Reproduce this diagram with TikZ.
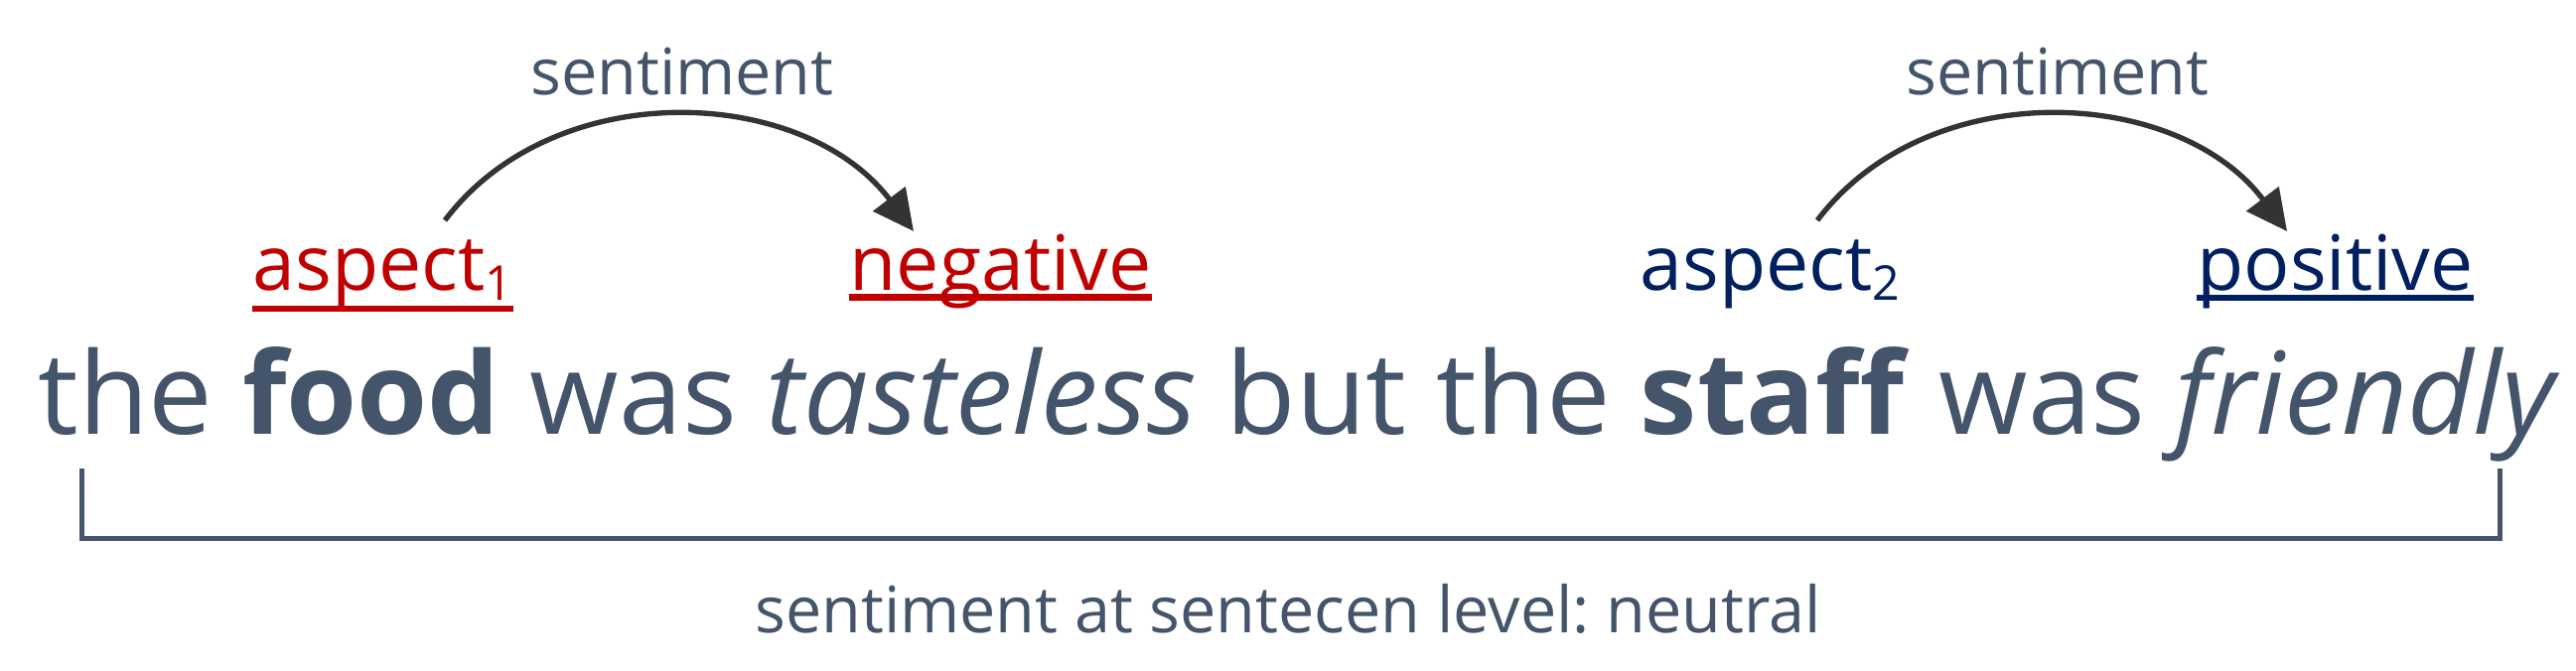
\documentclass[tikz,border=0pt]{standalone}
\usepackage{fontspec}
\setmainfont{Open Sans}
\usetikzlibrary{arrows.meta}
\frenchspacing
\definecolor{txtc}{HTML}{44546A}
\definecolor{redc}{HTML}{C00000}
\definecolor{navyc}{HTML}{002060}
\definecolor{arrc}{HTML}{333333}
\newcommand{\mysub}[1]{\raisebox{-3pt}{\fontsize{14.5pt}{15pt}\selectfont #1}}
\tikzset{
  bigtxt/.style={inner sep=0pt, anchor=base, text=txtc, font=\fontsize{34.5pt}{40pt}\selectfont},
  lbltxt/.style={inner sep=0pt, anchor=base, font=\fontsize{23.1pt}{28pt}\selectfont},
  smalltxt/.style={inner sep=0pt, anchor=base, text=txtc, font=\fontsize{19.4pt}{24pt}\selectfont},
  arcline/.style={draw=arrc, line width=1.6pt, -{Triangle[length=12.3pt,width=12pt]}},
  brk/.style={draw=txtc, line width=1.5pt, line join=miter},
  ulred/.style={draw=redc, line width=2pt},
  ulnavy/.style={draw=navyc, line width=1.8pt},
}
\begin{document}
\begin{tikzpicture}[x=0.3pt,y=-0.3pt]
\useasboundingbox (0,0) rectangle (2594,675);
% main sentence
\node[bigtxt] (sent) at (1308.5,437) {the \textbf{food} was \textit{tasteless} but the \textbf{staff} was \textit{friendly}};
% labels
\node[lbltxt, text=redc] (asp1) at (385.5,292) {aspect\mysub{1}};
\node[lbltxt, text=redc] (neg) at (1007.5,292) {negative};
\node[lbltxt, text=navyc] (asp2) at (1782.5,292) {aspect\mysub{2}};
\node[lbltxt, text=navyc] (pos) at (2351.5,292) {positive};
\node[smalltxt] (sent1) at (687,95) {sentiment};
\node[smalltxt] (sent2) at (2072,95) {sentiment};
\node[smalltxt] (level) at (1297,637) {sentiment at sentecen level: neutral};
% underlines
\draw[ulred] ([yshift=-5.7pt]asp1.base west) -- ([yshift=-5.7pt]asp1.base east);
\draw[ulred] ([yshift=-2.25pt]neg.base west) -- ([yshift=-2.25pt]neg.base east);
\draw[ulnavy] ([yshift=-2.5pt]pos.base west) -- ([yshift=-2.5pt]pos.base east);
% arcs
\coordinate (a1s) at (448,222);
\coordinate (a1e) at (920,233);
\coordinate (a2s) at (1830,222);
\coordinate (a2e) at (2303,233);
\draw[arcline] (a1s) .. controls +(111,-147) and +(-111,-147) .. (a1e);
\draw[arcline] (a2s) .. controls +(111,-147) and +(-111,-147) .. (a2e);
% bracket
\coordinate (b1) at (82,472);
\coordinate (b2) at (82,542);
\coordinate (b3) at (2517,542);
\coordinate (b4) at (2517,472);
\draw[brk] (b1) -- (b2) -- (b3) -- (b4);
\end{tikzpicture}
\end{document}
